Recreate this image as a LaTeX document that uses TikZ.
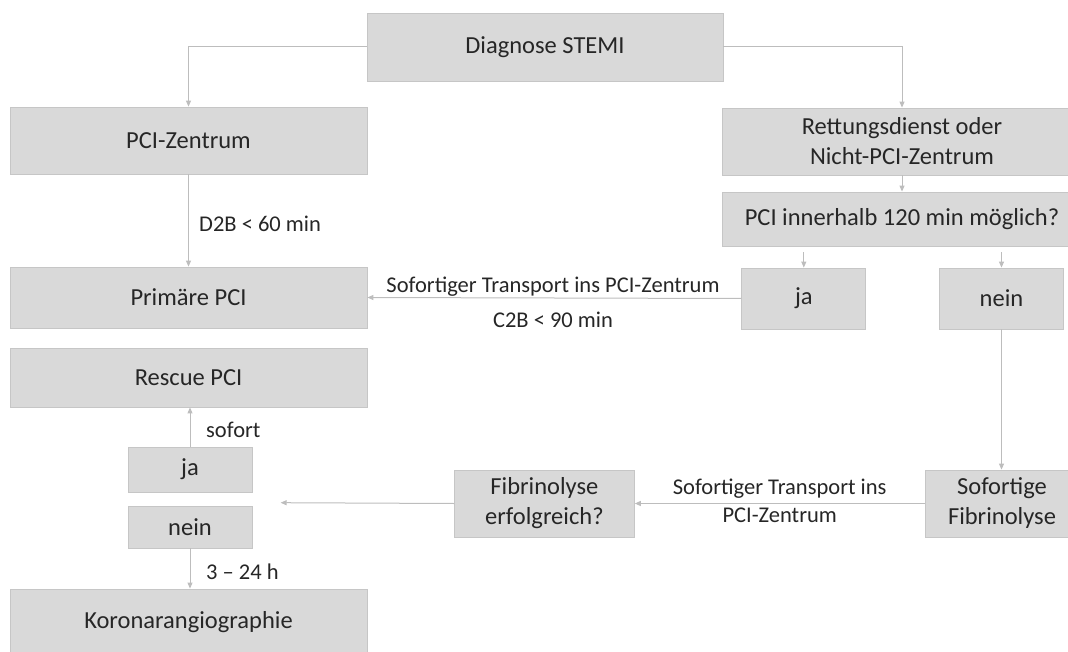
\documentclass[tikz,border=0pt]{standalone}
\usepackage{fontspec}
\setmainfont{Carlito}
\usetikzlibrary{arrows.meta}
\definecolor{boxfill}{HTML}{D9D9D9}
\definecolor{boxline}{HTML}{C6C6C6}
\definecolor{linkgray}{HTML}{BDBDBD}
\definecolor{textgray}{HTML}{262626}
\begin{document}
\begin{tikzpicture}[x=1pt,y=-1pt,
  box/.style={draw=boxline, fill=boxfill, line width=0.8pt, inner sep=0pt, align=center,
    text=textgray, font=\fontsize{24.5}{30}\selectfont},
  link/.style={draw=linkgray, line width=1pt, -{Triangle[length=6pt,width=5pt]}},
  lbl/.style={text=textgray, inner sep=0pt, align=center, font=\fontsize{22.5}{28}\selectfont}]
  \useasboundingbox (0,0) rectangle (1068,652);
  \node[box, minimum width=356pt, minimum height=68pt] (diag) at (545,47) {Diagnose STEMI};
  \node[box, minimum width=357pt, minimum height=67pt] (pcz) at (188.5,140.5) {PCI-Zentrum};
  \node[box, minimum width=360pt, minimum height=67pt] (rett) at (902,141.5) {Rettungsdienst oder\\Nicht-PCI-Zentrum};
  \node[box, minimum width=360pt, minimum height=54pt] (frage) at (902,219) {PCI innerhalb 120 min möglich?};
  \node[box, minimum width=124pt, minimum height=61pt] (jaR) at (803.8,298.5) {ja};
  \node[box, minimum width=124pt, minimum height=61pt] (neinR) at (1001.5,298.5) {nein};
  \node[box, minimum width=357pt, minimum height=61pt] (prim) at (188.5,297.5) {Primäre PCI};
  \node[box, minimum width=357pt, minimum height=59pt] (rescue) at (188.5,377.5) {Rescue PCI};
  \node[box, minimum width=124pt, minimum height=45pt] (jaL) at (190,469.5) {ja};
  \node[box, minimum width=124pt, minimum height=42pt] (neinL) at (190,527) {nein};
  \node[box, minimum width=357pt, minimum height=66pt] (koro) at (188.5,622) {Koronarangiographie};
  \node[box, minimum width=180pt, minimum height=67pt] (fibq) at (544.4,503.5) {Fibrinolyse\\erfolgreich?};
  \node[box, minimum width=154pt, minimum height=67pt] (fibs) at (1002,503.5) {Sofortige\\Fibrinolyse};
  \coordinate (ziel) at (280.6,502.7);

  \draw[link] (diag.west) -| (pcz.north);
  \draw[link] (diag.east) -| (rett.north);
  \draw[link] (pcz.south) -- (prim.north);
  \draw[link] (rett.south) -- (frage.north);
  \draw[link, shorten <=6pt] (frage.south -| jaR) -- (jaR.north);
  \draw[link, shorten <=6pt] (frage.south -| neinR) -- (neinR.north);
  \draw[link] (jaR.west) -- (prim.east);
  \draw[link] (neinR.south) -- (neinR.south |- fibs.north);
  \draw[link] (fibs.west) -- (fibq.east);
  \draw[link] (fibq.west) -- (ziel);
  \draw[link] (jaL.north) -- (jaL.north |- rescue.south);
  \draw[link] (neinL.south) -- (neinL.south |- koro.north);

  \node[lbl, anchor=west] (d2b) at (199,224) {D2B < 60 min};
  \node[lbl] (trans1) at (553,287) {Sofortiger Transport ins PCI-Zentrum};
  \node[lbl] (c2b) at (553,320) {C2B < 90 min};
  \node[lbl] (trans2) at (779.7,501) {Sofortiger Transport ins\\PCI-Zentrum};
  \node[lbl, anchor=west] (sofort) at (206,430) {sofort};
  \node[lbl, anchor=west] (std) at (206,572) {3 – 24 h};
\end{tikzpicture}
\end{document}
